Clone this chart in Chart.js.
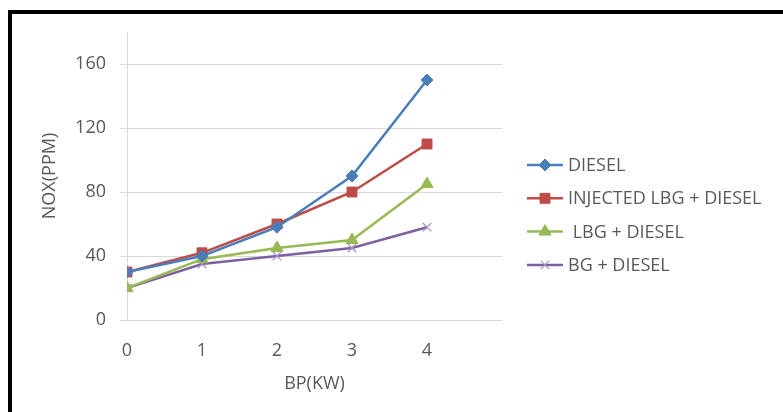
<!DOCTYPE html>
<html>
<head>
<meta charset="utf-8">
<script src="https://cdn.jsdelivr.net/npm/chart.js@4/dist/chart.umd.min.js"></script>
<style>
  html, body { margin: 0; padding: 0; background: #fff; }
  #wrap { position: relative; width: 783px; height: 412px; overflow: hidden; }
  #frame { position: absolute; left: 8px; top: 10px; width: 800px; height: 420px;
           border-top: 4px solid #000; border-left: 4px solid #000; }
  canvas { position: absolute; left: 0; top: 0; }
</style>
</head>
<body>
<div id="wrap">
  <div id="frame"></div>
  <canvas id="noxChart" width="783" height="412"></canvas>
</div>
<script>
const bpValues = [0, 1, 2, 3, 4];
const xTickLabels = ['0', '1', '2', '3', '4'];
const yTickValues = [0, 40, 80, 120, 160];

const dieselNox = [30, 40, 58, 90, 150];
const injectedLbgNox = [30, 42, 60, 80, 110];
const lbgNox = [20, 38, 45, 50, 85];
const bgNox = [20, 35, 40, 45, 58];

const seriesNames = ['DIESEL', 'INJECTED LBG + DIESEL', ' LBG + DIESEL', 'BG + DIESEL'];

const textColor = '#595959';
const gridColor = '#D9D9D9';
const fontFamily = '"Open Sans", sans-serif';
const fontSize = 18;

function toPoints(vals) {
    return vals.map((v, i) => ({ x: bpValues[i], y: v }));
}

// legend drawn by hand so each entry shows line + marker like the original
const sideLegend = {
    id: 'sideLegend',
    afterDraw(chart) {
        const ctx = chart.ctx;
        const startY = 165, gap = 33.3, lineX1 = 527, lineX2 = 563, textX = 568;
        ctx.save();
        chart.data.datasets.forEach((ds, i) => {
            const y = startY + i * gap;
            ctx.strokeStyle = ds.borderColor;
            ctx.lineWidth = ds.borderWidth;
            ctx.beginPath();
            ctx.moveTo(lineX1, y);
            ctx.lineTo(lineX2, y);
            ctx.stroke();
            ctx.fillStyle = ds.pointBackgroundColor;
            ctx.strokeStyle = ds.pointBorderColor;
            ctx.lineWidth = ds.pointBorderWidth;
            Chart.helpers.drawPoint(ctx, {
                pointStyle: ds.pointStyle,
                radius: ds.pointRadius,
                rotation: 0,
                borderWidth: ds.pointBorderWidth
            }, (lineX1 + lineX2) / 2, y);
            ctx.fillStyle = textColor;
            ctx.font = fontSize + 'px ' + fontFamily;
            ctx.textBaseline = 'middle';
            ctx.textAlign = 'left';
            ctx.fillText(ds.label, textX, y + 1);
        });
        ctx.restore();
    }
};

new Chart(document.getElementById('noxChart'), {
    type: 'line',
    data: {
        datasets: [{
            label: seriesNames[0],
            data: toPoints(dieselNox),
            borderColor: '#4A7EBB',
            borderWidth: 2.5,
            pointStyle: 'rectRot',
            pointRadius: 6,
            pointBackgroundColor: '#4A7EBB',
            pointBorderColor: '#4A7EBB',
            pointBorderWidth: 1
        }, {
            label: seriesNames[1],
            data: toPoints(injectedLbgNox),
            borderColor: '#BE4B48',
            borderWidth: 2.5,
            pointStyle: 'rect',
            pointRadius: 7,
            pointBackgroundColor: '#BE4B48',
            pointBorderColor: '#BE4B48',
            pointBorderWidth: 1
        }, {
            label: seriesNames[2],
            data: toPoints(lbgNox),
            borderColor: '#98B954',
            borderWidth: 2.5,
            pointStyle: 'triangle',
            pointRadius: 7,
            pointBackgroundColor: '#98B954',
            pointBorderColor: '#98B954',
            pointBorderWidth: 1
        }, {
            label: seriesNames[3],
            data: toPoints(bgNox),
            borderColor: '#7D60A0',
            borderWidth: 2.5,
            pointStyle: 'crossRot',
            pointRadius: 6,
            pointBackgroundColor: '#A594C6',
            pointBorderColor: '#A594C6',
            pointBorderWidth: 1.2
        }]
    },
    options: {
        responsive: false,
        animation: false,
        layout: { padding: { top: 32, right: 281, left: 0, bottom: 0 } },
        plugins: { legend: { display: false }, tooltip: { enabled: false } },
        scales: {
            x: {
                type: 'linear',
                min: 0,
                max: 5,
                afterFit: (s) => { s.height = 92; },
                afterBuildTicks: (s) => { s.ticks = bpValues.map(v => ({ value: v })); },
                grid: { display: false, drawTicks: false },
                border: { display: false },
                ticks: {
                    padding: 20,
                    color: textColor,
                    font: { size: fontSize, family: fontFamily },
                    callback: (v, i) => xTickLabels[i]
                },
                title: {
                    display: true,
                    text: 'BP(KW)',
                    color: textColor,
                    font: { size: fontSize, family: fontFamily },
                    padding: { top: 0, bottom: 17 }
                }
            },
            y: {
                min: 0,
                max: 180,
                afterFit: (s) => { s.width = 127; },
                afterBuildTicks: (s) => { s.ticks = yTickValues.map(v => ({ value: v })); },
                grid: { color: gridColor, tickLength: 7, lineWidth: 1 },
                border: { display: true, color: gridColor },
                ticks: {
                    padding: 14,
                    color: textColor,
                    font: { size: fontSize, family: fontFamily }
                },
                title: {
                    display: true,
                    text: 'NOX(PPM)',
                    color: textColor,
                    font: { size: fontSize, family: fontFamily },
                    padding: { top: 39, bottom: 0 }
                }
            }
        }
    },
    plugins: [sideLegend]
});
</script>
</body>
</html>
